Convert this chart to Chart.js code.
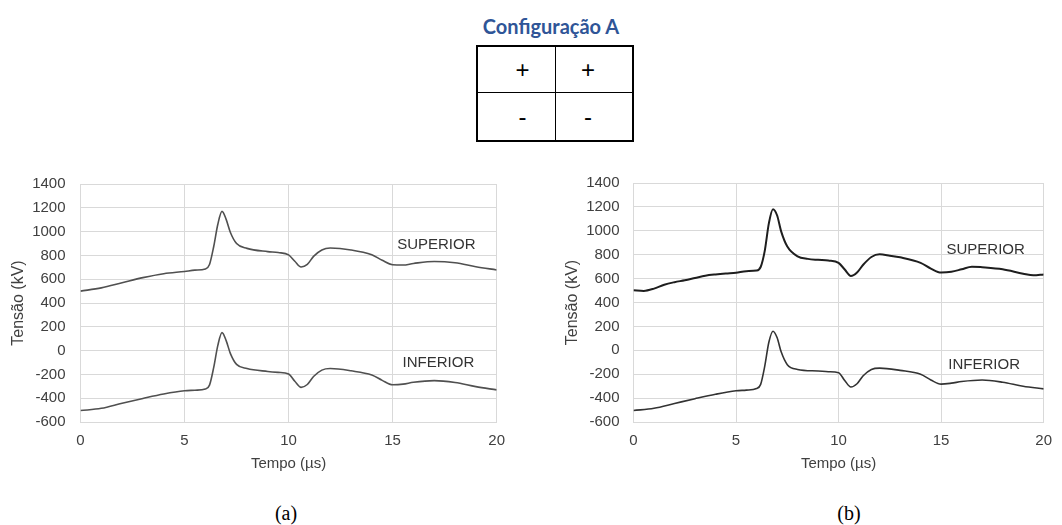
<!DOCTYPE html>
<html lang="pt">
<head>
<meta charset="utf-8">
<title>Configuração A</title>
<script src="https://cdn.jsdelivr.net/npm/chart.js@4.4.0/dist/chart.umd.min.js"></script>
<style>
  html, body { margin: 0; padding: 0; background: #fff; }
  body { width: 1062px; height: 525px; position: relative; overflow: hidden; font-family: "Liberation Sans", Arial, sans-serif; }
  #title { position: absolute; left: 551px; top: 26px; transform: translate(-50%, -50%); font-family: Lato, "Open Sans", sans-serif; font-weight: 700; font-size: 20px; color: #2f5597; white-space: nowrap; }
  #config { position: absolute; left: 476px; top: 45px; width: 158px; height: 97px; box-sizing: border-box; border: 2px solid #000; display: grid; grid-template-columns: 78px 76px; grid-template-rows: 46px 47px; }
  #config div { display: flex; align-items: center; justify-content: center; font-size: 24px; color: #000; box-sizing: border-box; }
  #config .c1 { border-right: 1px solid #000; padding-left: 12px; }
  #config .c2 { padding-right: 12px; }
  #config .r1 { border-bottom: 1px solid #000; }
  canvas { position: absolute; }
  #chartA { left: 0; top: 160px; }
  #chartB { left: 550px; top: 160px; }
  .caption { position: absolute; top: 513px; transform: translate(-50%, -50%); font-family: "Liberation Serif", "Times New Roman", serif; font-size: 20px; color: #000; }
</style>
</head>
<body>
<div id="title">Configuração A</div>
<div id="config">
  <div class="c1 r1">+</div><div class="c2 r1">+</div>
  <div class="c1">-</div><div class="c2">-</div>
</div>
<canvas id="chartA" width="515" height="320"></canvas>
<canvas id="chartB" width="512" height="320"></canvas>
<div class="caption" style="left:286px">(a)</div>
<div class="caption" style="left:849px">(b)</div>
<script>
// eixos comuns
const xTicks = [0, 5, 10, 15, 20];
const yTicks = [-600, -400, -200, 0, 200, 400, 600, 800, 1000, 1200, 1400];

// tempo (µs) e tensão (kV) - caso (a)
const tempoA = [0, 1, 2, 3, 4, 5, 5.5, 6, 6.2, 6.4, 6.6, 6.8, 7.0, 7.2, 7.5, 8, 9, 9.5, 10, 10.3, 10.6, 10.9, 11.2, 11.6, 12, 13, 14, 14.5, 15, 15.5, 16, 17, 18, 19, 20];
const superiorA = [500, 527, 570, 613, 646, 665, 676, 686, 724, 873, 1062, 1170, 1103, 995, 900, 859, 832, 824, 805, 751, 703, 724, 792, 846, 862, 846, 805, 759, 722, 719, 732, 749, 738, 705, 678];
const inferiorA = [-504, -485, -442, -402, -365, -338, -333, -322, -290, -143, 44, 151, 84, -23, -116, -151, -175, -183, -196, -258, -309, -285, -218, -164, -151, -170, -205, -250, -287, -282, -266, -252, -268, -303, -330];

// caso (b)
const tempoBSup = [0, 0.5, 1, 1.5, 2, 2.5, 3, 3.5, 4, 4.5, 5, 5.5, 6, 6.2, 6.4, 6.6, 6.8, 7.0, 7.2, 7.5, 8, 8.5, 9, 9.5, 10, 10.3, 10.6, 10.9, 11.2, 11.6, 12, 12.5, 13, 14, 14.5, 15, 15.5, 16, 16.5, 17, 18, 19, 19.5, 20];
const superiorB = [503, 497, 516, 549, 570, 586, 605, 624, 635, 643, 649, 662, 667, 697, 832, 1062, 1181, 1130, 995, 868, 786, 765, 757, 751, 732, 676, 622, 651, 716, 781, 803, 792, 778, 732, 684, 651, 657, 678, 700, 695, 678, 641, 627, 635];
const tempoBInf = tempoA;
const inferiorB = [-504, -485, -445, -405, -368, -339, -333, -320, -285, -133, 67, 160, 107, -13, -120, -160, -173, -179, -187, -253, -307, -280, -213, -160, -149, -168, -200, -248, -283, -275, -261, -248, -267, -301, -323];

// rótulos das curvas (em coordenadas de dados)
const rotulosA = [
  { text: "SUPERIOR", x: 17.1, y: 886 },
  { text: "INFERIOR", x: 17.2, y: -106 }
];
const rotulosB = [
  { text: "SUPERIOR", x: 17.17, y: 840 },
  { text: "INFERIOR", x: 17.1, y: -122 }
];

Chart.defaults.font.family = 'Arial, "Liberation Sans", sans-serif';

const curveLabels = {
  id: "curveLabels",
  afterDatasetsDraw(chart, args, opts) {
    const { ctx, scales: { x, y } } = chart;
    ctx.save();
    ctx.font = '15px Arial, "Liberation Sans", sans-serif';
    ctx.fillStyle = "#333";
    ctx.textAlign = "center";
    ctx.textBaseline = "middle";
    (opts.items || []).forEach(it => {
      ctx.fillText(it.text, x.getPixelForValue(it.x), y.getPixelForValue(it.y));
    });
    ctx.restore();
  }
};

function toPoints(tempo, valores) {
  return tempo.map((t, i) => ({ x: t, y: valores[i] }));
}

function drawChart(id, series, rotulos, g) {
  const gridColor = "#d9d9d9";
  return new Chart(document.getElementById(id), {
    type: "line",
    data: {
      datasets: series.map(s => ({
        data: toPoints(s.tempo, s.valores),
        borderColor: s.cor,
        borderWidth: s.largura,
        pointRadius: 0,
        fill: false,
        cubicInterpolationMode: "monotone"
      }))
    },
    options: {
      responsive: false,
      animation: false,
      devicePixelRatio: 1,
      layout: { padding: { left: 0, top: 14, right: g.right, bottom: 0 } },
      plugins: {
        legend: { display: false },
        tooltip: { enabled: false },
        curveLabels: { items: rotulos }
      },
      scales: {
        x: {
          type: "linear",
          min: 0,
          max: 20,
          afterBuildTicks: s => { s.ticks = xTicks.map(v => ({ value: v })); },
          afterFit: s => { s.height = 58; },
          grid: { color: gridColor, drawTicks: false },
          border: { color: gridColor },
          ticks: { padding: 10, color: "#404040", font: { size: 15 }, callback: v => String(v) },
          title: { display: true, text: "Tempo (µs)", color: "#404040", font: { size: 15 }, padding: { top: 0, bottom: 7 } }
        },
        y: {
          type: "linear",
          min: -600,
          max: 1400,
          afterBuildTicks: s => { s.ticks = yTicks.map(v => ({ value: v })); },
          afterFit: s => { s.width = g.axisWidth; },
          grid: { color: gridColor, drawTicks: false },
          border: { color: gridColor },
          ticks: { padding: g.tickPad, color: "#404040", font: { size: 15 }, callback: v => String(v) },
          title: { display: true, text: "Tensão (kV)", color: "#404040", font: { size: 16 }, padding: { top: g.titlePad, bottom: 0 } }
        }
      }
    },
    plugins: [curveLabels]
  });
}

drawChart("chartA", [
  { tempo: tempoA, valores: superiorA, cor: "#505050", largura: 1.6 },
  { tempo: tempoA, valores: inferiorA, cor: "#505050", largura: 1.6 }
], rotulosA, { axisWidth: 80.5, right: 15.5, tickPad: 15, titlePad: 9.4 });

drawChart("chartB", [
  { tempo: tempoBSup, valores: superiorB, cor: "#1e1e1e", largura: 2 },
  { tempo: tempoBInf, valores: inferiorB, cor: "#333333", largura: 1.6 }
], rotulosB, { axisWidth: 83.5, right: 10, tickPad: 14, titlePad: 13.4 });
</script>
</body>
</html>
